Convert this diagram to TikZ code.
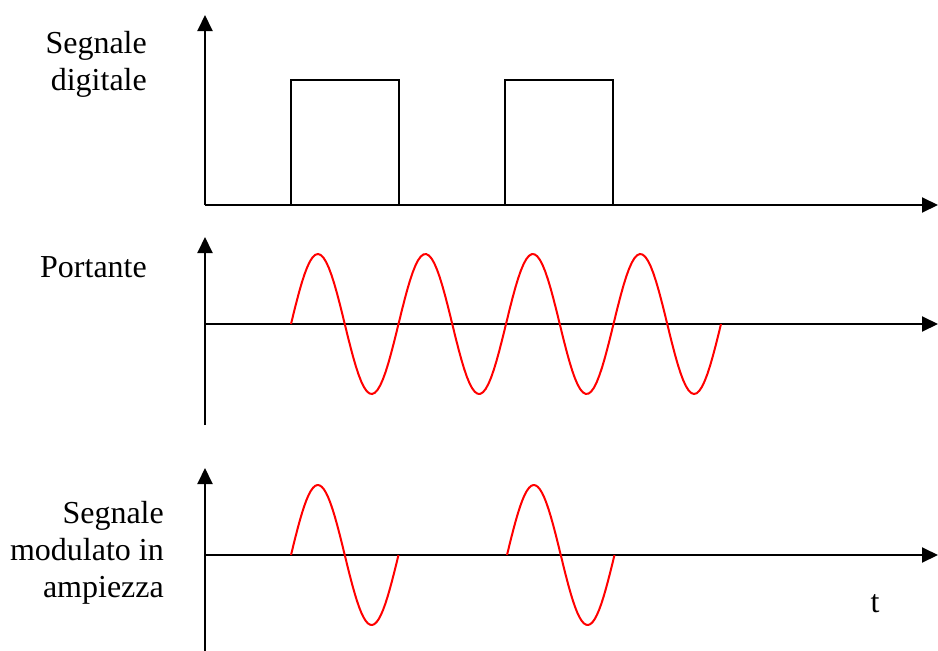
\documentclass[tikz,border=0pt]{standalone}
\usepackage{fontspec}
\setmainfont{Liberation Serif}
\usepackage{tikz}
\usetikzlibrary{arrows.meta}

\begin{document}
\begin{tikzpicture}[x=1pt, y=-1pt,
  axis/.style={-{Triangle[length=16pt,width=15pt]}, line width=2pt},
  pulse/.style={line width=2pt},
  wave/.style={red, line width=2pt},
  lab/.style={font=\fontsize{32}{37}\selectfont, align=right, inner sep=0pt}
]
\useasboundingbox[fill=white] (0,0) rectangle (938,651);

% digital signal
\coordinate (o1) at (205,205);
\coordinate (y1) at (205,15);
\coordinate (x1) at (938,205);
\draw[axis] (o1) -- (y1);
\draw[axis] (o1) -- (x1);
\foreach \s in {291,505} {
  \draw[pulse] (\s,205) rectangle (\s+108,80);
}
\node[lab, anchor=base east] (dig) at (147,90) {Segnale\\digitale};

% carrier
\coordinate (b2) at (205,425);
\coordinate (y2) at (205,237);
\coordinate (o2) at (205,324);
\coordinate (x2) at (938,324);
\draw[axis] (b2) -- (y2);
\draw[axis] (o2) -- (x2);
\draw[wave] plot[domain=291:721, samples=160] (\x, {324-70*sin((\x-291)/107.5*360)});
\node[lab, anchor=base east] (port) at (147,277) {Portante};

% modulated signal
\coordinate (b3) at (205,651);
\coordinate (y3) at (205,468);
\coordinate (o3) at (205,555);
\coordinate (x3) at (938,555);
\draw[axis] (b3) -- (y3);
\draw[axis] (o3) -- (x3);
\foreach \s in {291,507} {
  \draw[wave] plot[domain=\s:\s+107.5, samples=50] (\x, {555-70*sin((\x-\s)/107.5*360)});
}
\node[lab, anchor=base east] (mod) at (164,597) {Segnale\\modulato in\\ampiezza};
\node[lab, anchor=base] (t) at (875,612) {t};
\end{tikzpicture}
\end{document}
